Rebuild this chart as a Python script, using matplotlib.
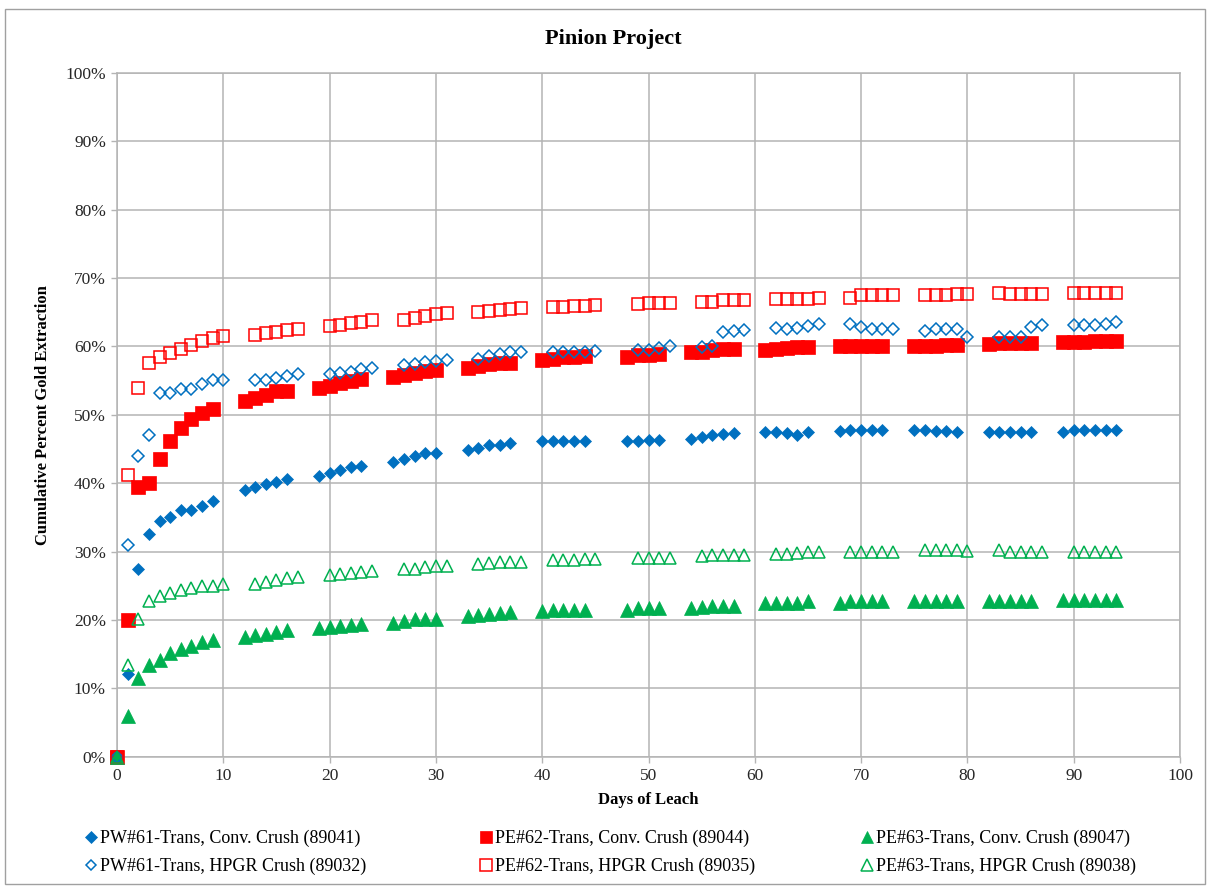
import matplotlib
matplotlib.use("Agg")
import matplotlib.pyplot as plt
from matplotlib.patches import Rectangle
from matplotlib.ticker import MultipleLocator, FuncFormatter

# Leach days sampled for the conventional-crush and HPGR-crush columns
days_conv = [0, 1, 2, 3, 4, 5, 6, 7, 8, 9,
             12, 13, 14, 15, 16,
             19, 20, 21, 22, 23,
             26, 27, 28, 29, 30,
             33, 34, 35, 36, 37,
             40, 41, 42, 43, 44,
             48, 49, 50, 51,
             54, 55, 56, 57, 58,
             61, 62, 63, 64, 65,
             68, 69, 70, 71, 72,
             75, 76, 77, 78, 79,
             82, 83, 84, 85, 86,
             89, 90, 91, 92, 93, 94]

days_hpgr = [0, 1, 2, 3, 4, 5, 6, 7, 8, 9, 10,
             13, 14, 15, 16, 17,
             20, 21, 22, 23, 24,
             27, 28, 29, 30, 31,
             34, 35, 36, 37, 38,
             41, 42, 43, 44, 45,
             49, 50, 51, 52,
             55, 56, 57, 58, 59,
             62, 63, 64, 65, 66,
             69, 70, 71, 72, 73,
             76, 77, 78, 79, 80,
             83, 84, 85, 86, 87,
             90, 91, 92, 93, 94]

# Cumulative gold extraction, percent
pw61_conv = [0, 12.1, 27.4, 32.5, 34.4, 35.0, 36.0, 36.1, 36.6, 37.4,
             39.0, 39.5, 39.9, 40.1, 40.6,
             41.0, 41.5, 41.9, 42.3, 42.5,
             43.1, 43.5, 43.9, 44.4, 44.4,
             44.9, 45.2, 45.6, 45.6, 45.8,
             46.1, 46.1, 46.1, 46.1, 46.1,
             46.2, 46.2, 46.3, 46.3,
             46.4, 46.8, 47.0, 47.2, 47.3,
             47.4, 47.4, 47.3, 47.1, 47.4,
             47.6, 47.8, 47.8, 47.8, 47.8,
             47.8, 47.8, 47.6, 47.6, 47.4,
             47.5, 47.5, 47.5, 47.5, 47.5,
             47.5, 47.7, 47.7, 47.7, 47.7, 47.8]

pe62_conv = [0, 20.0, 39.5, 40.0, 43.5, 46.2, 48.0, 49.3, 50.2, 50.9,
             52.0, 52.4, 52.9, 53.4, 53.5,
             53.9, 54.2, 54.6, 55.0, 55.2,
             55.5, 55.8, 56.1, 56.4, 56.5,
             56.8, 57.1, 57.4, 57.5, 57.6,
             58.0, 58.2, 58.4, 58.5, 58.6,
             58.5, 58.7, 58.8, 58.9,
             59.1, 59.2, 59.4, 59.6, 59.6,
             59.5, 59.6, 59.8, 59.9, 59.9,
             60.0, 60.0, 60.0, 60.1, 60.1,
             60.0, 60.0, 60.1, 60.2, 60.2,
             60.4, 60.5, 60.5, 60.5, 60.5,
             60.6, 60.7, 60.7, 60.8, 60.8, 60.8]

pe63_conv = [0, 5.9, 11.5, 13.4, 14.2, 15.1, 15.7, 16.2, 16.8, 17.1,
             17.5, 17.8, 18.0, 18.3, 18.5,
             18.8, 19.0, 19.1, 19.3, 19.4,
             19.6, 19.9, 20.1, 20.2, 20.2,
             20.6, 20.7, 20.9, 21.0, 21.1,
             21.3, 21.4, 21.4, 21.4, 21.4,
             21.5, 21.7, 21.7, 21.7,
             21.7, 21.9, 22.0, 22.0, 22.0,
             22.4, 22.4, 22.5, 22.5, 22.7,
             22.5, 22.7, 22.7, 22.7, 22.7,
             22.7, 22.7, 22.7, 22.7, 22.7,
             22.8, 22.8, 22.8, 22.8, 22.8,
             22.9, 22.9, 22.9, 22.9, 22.9, 22.9]

pw61_hpgr = [0, 30.9, 44.0, 47.0, 53.2, 53.2, 53.8, 53.8, 54.5, 55.1, 55.1,
             55.1, 55.1, 55.3, 55.7, 55.9,
             56.0, 56.1, 56.3, 56.7, 56.9,
             57.3, 57.4, 57.7, 57.9, 58.0,
             58.1, 58.6, 58.9, 59.1, 59.1,
             59.2, 59.2, 59.2, 59.2, 59.3,
             59.5, 59.5, 59.7, 60.0,
             59.9, 60.0, 62.1, 62.3, 62.4,
             62.7, 62.6, 62.7, 62.9, 63.2,
             63.2, 62.8, 62.6, 62.6, 62.6,
             62.3, 62.6, 62.6, 62.6, 61.3,
             61.4, 61.4, 61.4, 62.8, 63.1,
             63.1, 63.1, 63.1, 63.3, 63.5]

pe62_hpgr = [0, 41.2, 53.9, 57.6, 58.4, 59.0, 59.6, 60.2, 60.8, 61.2, 61.5,
             61.7, 61.9, 62.1, 62.4, 62.6,
             63.0, 63.1, 63.4, 63.6, 63.8,
             63.9, 64.2, 64.4, 64.7, 64.8,
             65.0, 65.2, 65.3, 65.5, 65.6,
             65.7, 65.8, 65.9, 65.9, 66.0,
             66.2, 66.3, 66.3, 66.3,
             66.5, 66.5, 66.7, 66.8, 66.8,
             66.9, 66.9, 66.9, 66.9, 67.0,
             67.0, 67.5, 67.5, 67.5, 67.5,
             67.5, 67.5, 67.5, 67.6, 67.6,
             67.8, 67.7, 67.7, 67.7, 67.7,
             67.8, 67.8, 67.8, 67.8, 67.8]

pe63_hpgr = [0, 13.4, 20.2, 22.7, 23.5, 23.9, 24.4, 24.6, 24.9, 25.0, 25.2,
             25.3, 25.6, 25.8, 26.1, 26.3,
             26.6, 26.7, 26.8, 27.0, 27.2,
             27.4, 27.5, 27.8, 27.9, 27.9,
             28.2, 28.3, 28.5, 28.5, 28.5,
             28.7, 28.8, 28.8, 28.9, 28.9,
             29.0, 29.0, 29.0, 29.0,
             29.3, 29.5, 29.5, 29.5, 29.5,
             29.6, 29.6, 29.8, 30.0, 30.0,
             30.0, 30.0, 30.0, 30.0, 30.0,
             30.2, 30.2, 30.2, 30.2, 30.1,
             30.2, 30.0, 30.0, 30.0, 30.0,
             30.0, 30.0, 30.0, 30.0, 30.0]

labels = ["PW#61-Trans, Conv. Crush (89041)", "PE#62-Trans, Conv. Crush (89044)",
          "PE#63-Trans, Conv. Crush (89047)", "PW#61-Trans, HPGR Crush (89032)",
          "PE#62-Trans, HPGR Crush (89035)", "PE#63-Trans, HPGR Crush (89038)"]

BLUE, RED, GREEN = "#0070C0", "#FF0000", "#00B050"
GRID = "#B4B4B4"

plt.rcParams["font.family"] = ["Liberation Serif", "DejaVu Serif"]

W, H = 1207, 886
fig = plt.figure(figsize=(W / 100, H / 100), dpi=100)
fig.patch.set_facecolor("white")

# plot area in pixel coordinates
L, R, T, B = 117, 1180, 72.7, 756.7
ax = fig.add_axes([L / W, 1 - B / H, (R - L) / W, (B - T) / H])

series = [
    (days_conv, pw61_conv, dict(marker="D", ms=6.4, color=BLUE, mfc=BLUE, mec=BLUE, mew=0.5)),
    (days_conv, pe62_conv, dict(marker="s", ms=9.8, color=RED, mfc=RED, mec=RED, mew=0.5)),
    (days_conv, pe63_conv, dict(marker="^", ms=9.4, color=GREEN, mfc=GREEN, mec=GREEN, mew=0.5)),
    (days_hpgr, pw61_hpgr, dict(marker="D", ms=6.0, color=BLUE, mfc="none", mec=BLUE, mew=1.1)),
    (days_hpgr, pe62_hpgr, dict(marker="s", ms=8.8, color=RED, mfc="none", mec=RED, mew=1.1)),
    (days_hpgr, pe63_hpgr, dict(marker="^", ms=8.8, color=GREEN, mfc="none", mec=GREEN, mew=1.1)),
]

handles = []
for (x, y, st), lab in zip(series, labels):
    h, = ax.plot(x, y, linestyle="none", label=lab, zorder=3, clip_on=False, **st)
    handles.append(h)

ax.set_xlim(0, 100)
ax.set_ylim(0, 100)
ax.xaxis.set_major_locator(MultipleLocator(10))
ax.yaxis.set_major_locator(MultipleLocator(10))
ax.yaxis.set_major_formatter(FuncFormatter(lambda v, p: f"{v:.0f}%"))
ax.grid(True, color=GRID, linewidth=1.1, zorder=0)
ax.set_axisbelow(True)
for s in ax.spines.values():
    s.set_color(GRID)
    s.set_linewidth(1.1)
ax.tick_params(axis="both", which="major", direction="out", length=4,
               width=1.0, color=GRID, labelsize=12.5, labelcolor="#262626")
ax.tick_params(axis="x", pad=4)
ax.tick_params(axis="y", pad=4)

ax.set_xlabel("Days of Leach", fontsize=12, fontweight="bold", labelpad=6)
ax.set_ylabel("Cumulative Percent Gold Extraction", fontsize=12, fontweight="bold", labelpad=10)

fig.text(613 / W, 1 - 39 / H, "Pinion Project", fontsize=16, fontweight="bold",
         ha="center", va="center")

# legend: three columns, two rows (conventional above HPGR)
col_x = [86, 481, 862]
for i, xpx in enumerate(col_x):
    fig.legend([handles[i], handles[i + 3]], [labels[i], labels[i + 3]],
               loc="upper left", bbox_to_anchor=(xpx / W, 1 - 830 / H),
               frameon=False, fontsize=13, markerscale=0.9,
               handlelength=0.6, handletextpad=0.2, labelspacing=0.6,
               borderaxespad=0, borderpad=0)

# thin frame around the whole chart
fig.add_artist(Rectangle((5 / W, 2 / H), 1200 / W, 875 / H, transform=fig.transFigure,
                         fill=False, edgecolor="#A0A0A0", linewidth=1.0))

fig.savefig("out.png", dpi=100, facecolor="white")
